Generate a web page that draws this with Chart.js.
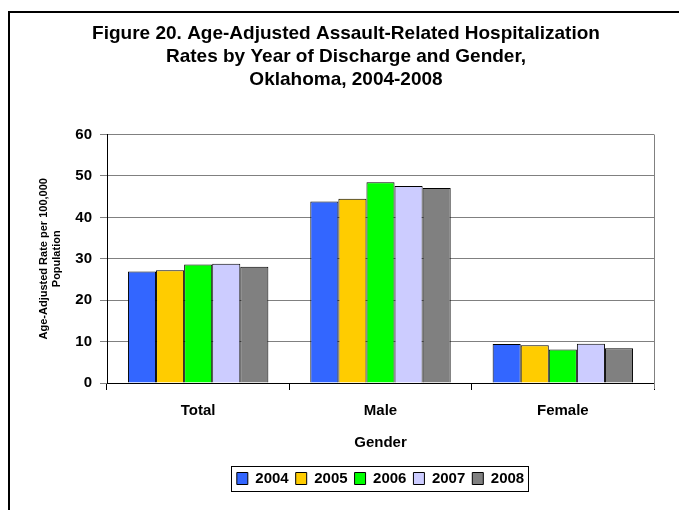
<!DOCTYPE html>
<html>
<head>
<meta charset="utf-8">
<script src="https://cdn.jsdelivr.net/npm/chart.js@4/dist/chart.umd.min.js"></script>
<style>
  html, body { margin: 0; padding: 0; background: #fff; }
  #wrap { position: relative; width: 679px; height: 510px; overflow: hidden; }
  #frame { position: absolute; left: 8px; top: 11px; width: 700px; height: 540px;
           border-left: 2px solid #000; border-top: 2px solid #000; }
  canvas { position: absolute; left: 0; top: 0; }
</style>
</head>
<body>
<div id="wrap">
  <div id="frame"></div>
  <canvas id="myChart" width="679" height="510"></canvas>
</div>
<script>
const categories = ["Total", "Male", "Female"];
const years = ["2004", "2005", "2006", "2007", "2008"];
const rates2004 = [26.9, 43.8, 9.4];
const rates2005 = [27.2, 44.5, 9.1];
const rates2006 = [28.6, 48.5, 8.1];
const rates2007 = [28.8, 47.6, 9.5];
const rates2008 = [28.1, 47.1, 8.4];
const yTicks = [0, 10, 20, 30, 40, 50, 60];

const colors = ["#3366FF", "#FFCC00", "#00FF00", "#CCCCFF", "#808080"];
const allRates = [rates2004, rates2005, rates2006, rates2007, rates2008];

const font = "'Liberation Sans', Arial, sans-serif";

// box around legend + right border of plot area
const extras = {
  id: "extras",
  afterDraw(chart) {
    const ctx = chart.ctx;
    const a = chart.chartArea;
    ctx.save();
    ctx.strokeStyle = "#808080";
    ctx.lineWidth = 1;
    ctx.beginPath();
    ctx.moveTo(Math.round(a.right) + 0.5, a.top);
    ctx.lineTo(Math.round(a.right) + 0.5, a.bottom + 6);
    ctx.stroke();

    const boxes = chart.legend.legendHitBoxes;
    if (boxes && boxes.length) {
      let l = Infinity, r = -Infinity, t = Infinity, b = -Infinity;
      boxes.forEach(h => {
        l = Math.min(l, h.left); r = Math.max(r, h.left + h.width);
        t = Math.min(t, h.top); b = Math.max(b, h.top + h.height);
      });
      ctx.strokeStyle = "#000";
      ctx.strokeRect(Math.round(l - 6) + 0.5, Math.round(t - 5) + 0.5, Math.round(r - l + 10), Math.round(b - t + 10));
    }
    ctx.restore();
  }
};

new Chart("myChart", {
  type: "bar",
  data: {
    labels: categories,
    datasets: years.map((y, i) => ({
      label: y,
      data: allRates[i],
      backgroundColor: colors[i],
      borderColor: "#000",
      borderWidth: 1,
      categoryPercentage: 0.77,
      barPercentage: 1.0
    }))
  },
  options: {
    responsive: false,
    animation: false,
    layout: { padding: { left: 38, right: 25, top: 0, bottom: 14 } },
    plugins: {
      title: {
        display: true,
        text: ["Figure 20. Age-Adjusted Assault-Related Hospitalization",
               "Rates by Year of Discharge and Gender,",
               "Oklahoma, 2004-2008"],
        color: "#000",
        font: { family: font, size: 19, weight: "bold", lineHeight: 1.22 },
        padding: { top: 22, bottom: 43 }
      },
      legend: {
        position: "bottom",
        fullSize: false,
        labels: {
          color: "#000",
          font: { family: font, size: 15, weight: "bold" },
          boxWidth: 11,
          boxHeight: 12,
          padding: 7
        }
      },
      tooltip: { enabled: false }
    },
    scales: {
      y: {
        min: 0,
        max: 60,
        afterBuildTicks(scale) { scale.ticks = yTicks.map(v => ({ value: v })); },
        afterFit(scale) { scale.width = 107 - 38; },
        ticks: { color: "#000", font: { family: font, size: 15, weight: "bold" }, padding: 8 },
        grid: { color: "#808080", tickLength: 7, lineWidth: 1 },
        border: { color: "#000" },
        title: {
          display: true,
          text: ["Age-Adjusted Rate per 100,000", "Population"],
          color: "#000",
          font: { family: font, size: 11, weight: "bold", lineHeight: 1.15 },
          padding: { top: 0, bottom: 12 }
        }
      },
      x: {
        ticks: { color: "#000", font: { family: font, size: 15, weight: "bold" }, padding: 12 },
        grid: { drawOnChartArea: false, color: "#000", tickLength: 7, offset: true },
        border: { color: "#000" },
        title: {
          display: true,
          text: "Gender",
          color: "#000",
          font: { family: font, size: 15, weight: "bold" },
          padding: { top: 2, bottom: 12 }
        }
      }
    }
  },
  plugins: [extras]
});
</script>
</body>
</html>
